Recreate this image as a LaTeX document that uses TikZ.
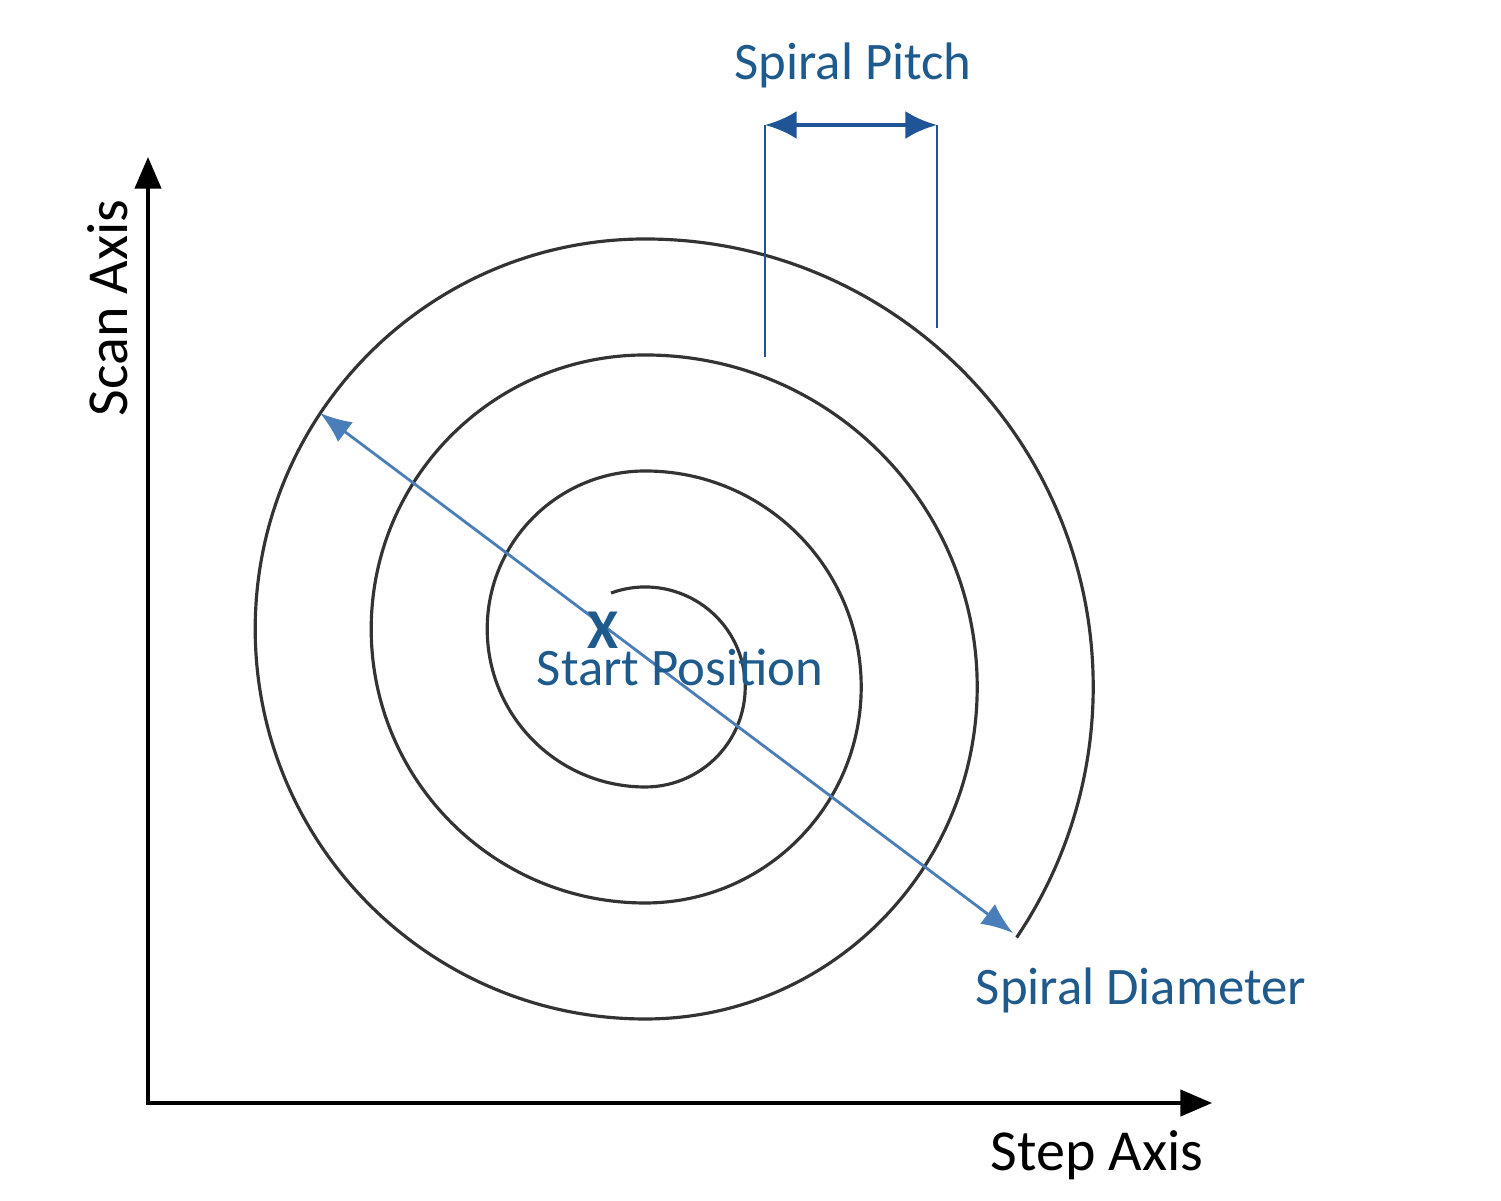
\documentclass[tikz,border=0pt]{standalone}
\usepackage{fontspec}
\setmainfont{Carlito}
\usetikzlibrary{arrows.meta}
\definecolor{tblue}{HTML}{1F5A8C}
\definecolor{dblue}{HTML}{1F5597}
\definecolor{sblue}{HTML}{4A7EBB}
\begin{document}
\begin{tikzpicture}[x=0.01cm,y=-0.01cm,
  lbl/.style={text=tblue,font=\fontsize{15}{17}\selectfont,inner sep=0},
  axlbl/.style={text=black,font=\fontsize{16.5}{18}\selectfont,inner sep=0},
  axis/.style={line width=0.9pt,-{Triangle[length=9pt,width=7.5pt]}}]
\useasboundingbox (0,0) rectangle (1501,1200);
\coordinate (O) at (148,1103);
\coordinate (Ytop) at (148,157);
\coordinate (Xend) at (1212,1103);
\draw[axis] (O) -- (Ytop);
\draw[axis] ([xshift=-0.45pt]O) -- (Xend);
\node[axlbl,rotate=90] (scan) at (108,308) {Scan Axis};
\node[axlbl] (step) at (1097,1155) {Step Axis};
% spiral
\draw[line width=0.9pt,black!80] (611,593)
  arc[start angle=250,end angle=450,radius=100]
  arc[start angle=90,end angle=270,radius=158]
  arc[start angle=270,end angle=450,radius=216]
  arc[start angle=90,end angle=270,radius=274]
  arc[start angle=270,end angle=450,radius=332]
  arc[start angle=90,end angle=270,radius=390]
  arc[start angle=270,end angle=394,radius=448];
% pitch
\coordinate (p1t) at (765,125); \coordinate (p1b) at (765,357);
\coordinate (p2t) at (937,125); \coordinate (p2b) at (937,328);
\draw[dblue,line width=0.7pt] (p1t) -- (p1b);
\draw[dblue,line width=0.7pt] (p2t) -- (p2b);
\draw[dblue,line width=1.3pt,{Latex[length=9pt,width=8pt]}-{Latex[length=9pt,width=8pt]}] (p1t) -- (p2t);
\node[lbl] (pitch) at (853,65) {Spiral Pitch};
% diameter
\coordinate (d1) at (320,413); \coordinate (d2) at (1013,933);
\draw[sblue,line width=0.8pt,{Latex[length=9pt,width=7pt]}-{Latex[length=9pt,width=7pt]}] (d1) -- (d2);
\node[lbl] (diam) at (1141,990) {Spiral Diameter};
\node[text=tblue,font=\bfseries\fontsize{16}{18}\selectfont,inner sep=0] (x) at (603,630) {X};
\node[lbl] (start) at (680,667) {Start Position};
\end{tikzpicture}
\end{document}
